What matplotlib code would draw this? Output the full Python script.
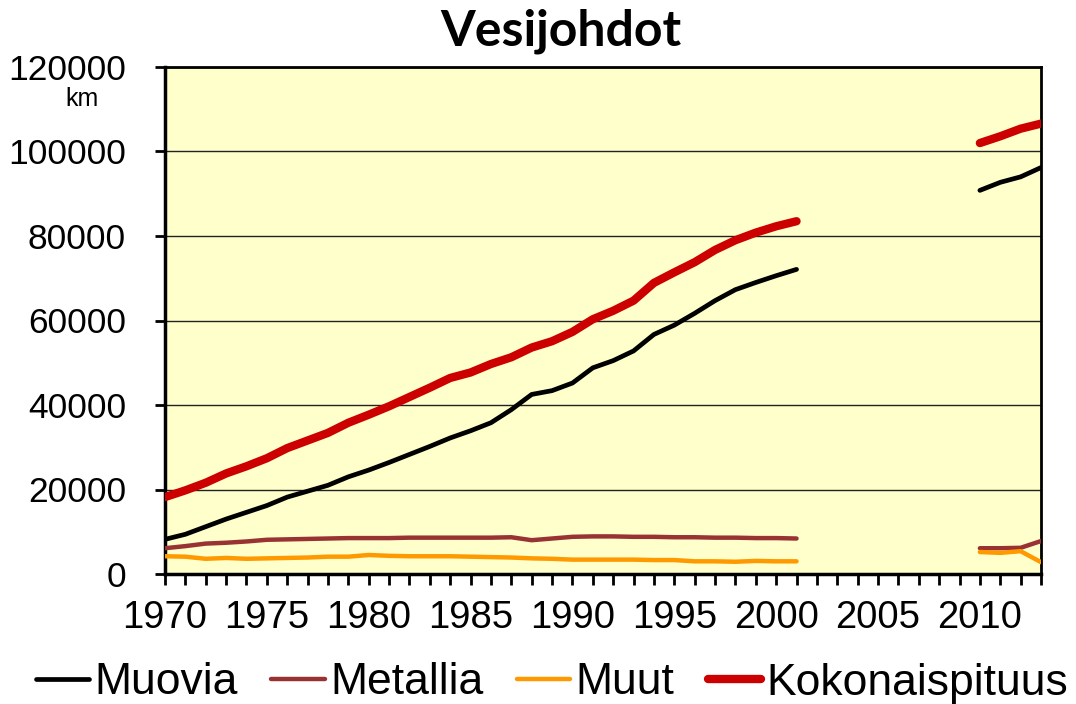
import numpy as np
import matplotlib
matplotlib.use("Agg")
import matplotlib.pyplot as plt
from matplotlib.ticker import MultipleLocator

nan = np.nan
years = list(range(1970, 2014))
gap = [nan] * 8  # 2002-2009: no data

muovia = [8200, 9400, 11200, 13000, 14600, 16200, 18200, 19600, 21000, 23000,
          24600, 26400, 28300, 30200, 32200, 33900, 35800, 38900, 42500, 43400,
          45200, 48800, 50500, 52800, 56700, 58900, 61700, 64700, 67300, 69000,
          70600, 72100] + gap + [90800, 92700, 94000, 96200]
metallia = [6100, 6600, 7200, 7400, 7700, 8100, 8200, 8300, 8400, 8500,
            8500, 8500, 8600, 8600, 8600, 8600, 8600, 8700, 8000, 8400,
            8800, 8900, 8900, 8800, 8800, 8700, 8700, 8600, 8600, 8500,
            8500, 8400] + gap + [6100, 6100, 6200, 7800]
muut = [4200, 4100, 3600, 3800, 3600, 3700, 3800, 3900, 4100, 4100,
        4500, 4300, 4200, 4200, 4200, 4100, 4000, 3900, 3700, 3600,
        3400, 3400, 3400, 3400, 3300, 3300, 3000, 3000, 2900, 3100,
        3000, 3000] + gap + [5200, 5000, 5400, 2800]
kokonais = [18200, 19800, 21600, 23800, 25500, 27400, 29800, 31600, 33400, 35800,
            37700, 39700, 41900, 44100, 46400, 47700, 49700, 51300, 53600, 55100,
            57300, 60300, 62300, 64700, 68900, 71400, 73800, 76700, 79000, 80800,
            82300, 83500] + gap + [102000, 103600, 105400, 106600]

series_names = ["Muovia", "Metallia", "Muut", "Kokonaispituus"]
series_vals = [muovia, metallia, muut, kokonais]
series_colors = ["#000000", "#993333", "#FF9900", "#CC0000"]
series_widths = [3.4, 3.2, 3.2, 6.0]

title = "Vesijohdot"
unit = "km"

plt.rcParams['font.family'] = ['Liberation Sans', 'DejaVu Sans']

fig = plt.figure(figsize=(10.76, 7.04), dpi=100)
ax = fig.add_axes([165/1076, 1 - 574/704, (1041-165)/1076, (574-67)/704])
ax.set_facecolor("#FFFFCC")

for name, vals, col, lw in zip(series_names, series_vals, series_colors, series_widths):
    ax.plot(years, vals, color=col, lw=lw, label=name,
            solid_capstyle='round', solid_joinstyle='round', zorder=3)

ax.set_xlim(1970, 2013)
ax.set_ylim(0, 120000)
ax.yaxis.set_major_locator(MultipleLocator(20000))
ax.xaxis.set_major_locator(MultipleLocator(5))
ax.xaxis.set_minor_locator(MultipleLocator(1))
ax.grid(axis='y', color='#222222', lw=1.0, zorder=1)
ax.set_axisbelow(True)

for sp in ax.spines.values():
    sp.set_linewidth(2.0)
    sp.set_color('black')
ax.spines['left'].set_linewidth(2.5)
ax.spines['bottom'].set_linewidth(2.5)

ax.tick_params(axis='y', which='major', direction='out', length=7, width=2,
               labelsize=25.5, pad=21)
ax.tick_params(axis='x', which='both', direction='out', length=8, width=2,
               labelsize=27.5, pad=11)
ax.set_yticklabels([f"{int(v)}" for v in ax.get_yticks()])

fig.text(561/1076, 1 - 31/704, title, ha='center', va='center',
         fontsize=36, fontweight='bold', family=['Lato', 'DejaVu Sans'])
fig.text(82/1076, 1 - 99/704, unit, ha='center', va='center', fontsize=18)

leg = fig.legend(loc='center', bbox_to_anchor=(552/1076, 1 - 683/704), ncol=4,
                 frameon=False, fontsize=32, handlelength=1.2, handletextpad=0.12,
                 columnspacing=0.75, borderaxespad=0, borderpad=0)
for line in leg.get_lines():
    line.set_solid_capstyle('round')

fig.savefig("out.png", dpi=100)
